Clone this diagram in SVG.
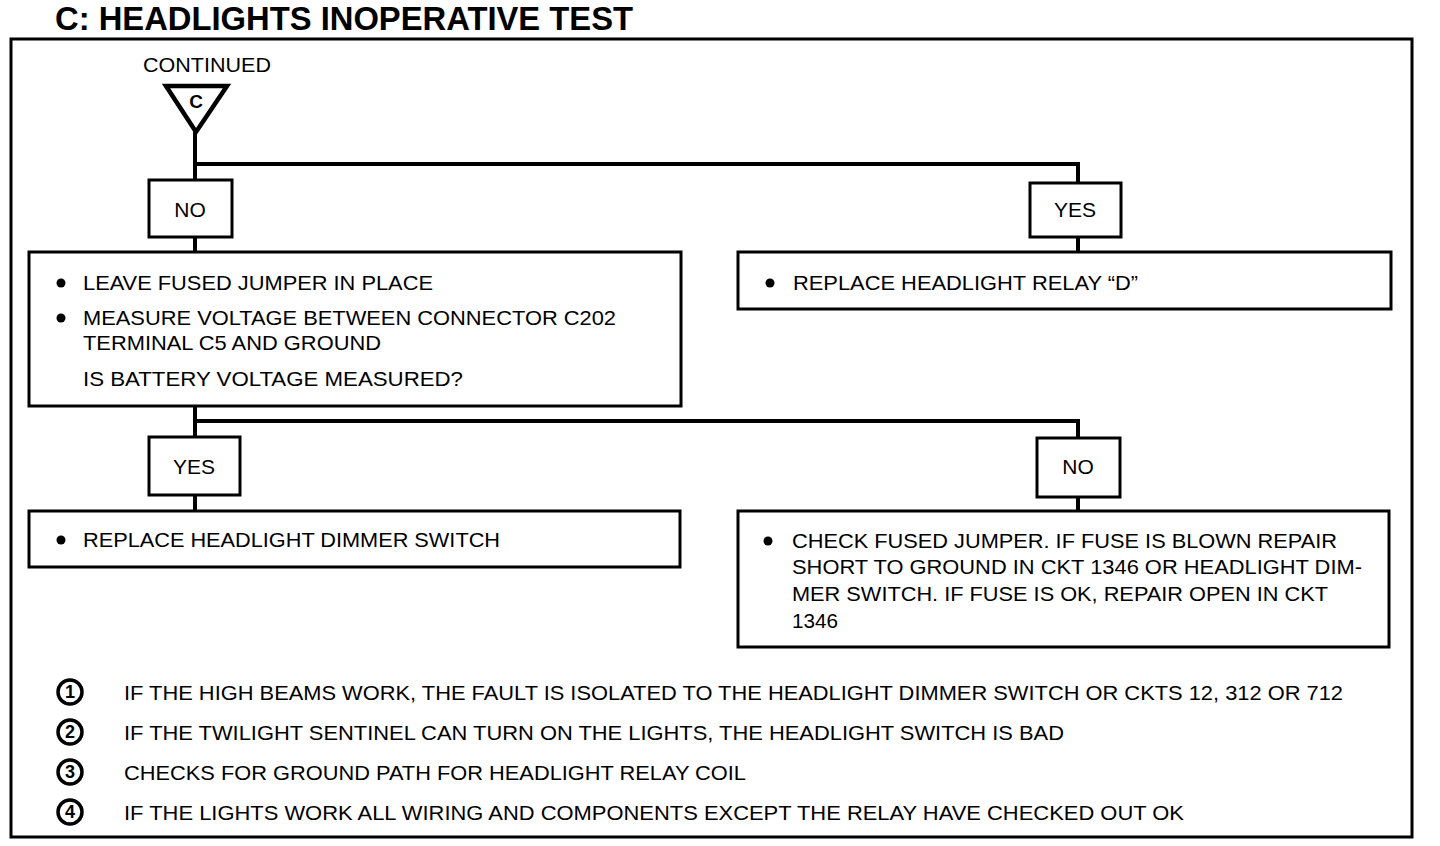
<svg xmlns="http://www.w3.org/2000/svg" width="1440" height="846" viewBox="0 0 1440 846">
<style>
text{font-family:"Liberation Sans",Arial,sans-serif;fill:#000}
.t{font-size:21px}
.lbl{font-size:21px;text-anchor:middle}
.box{fill:#fff;stroke:#000;stroke-width:3}
.ln{fill:none;stroke:#000;stroke-width:4}
.dot{fill:#000}
.num{fill:#fff;stroke:#000;stroke-width:3.5}
.nt{font-size:18px;font-weight:bold;text-anchor:middle}
</style>
<rect width="1440" height="846" fill="#fff"/>
<text x="55" y="30" font-size="33" font-weight="bold" textLength="578" lengthAdjust="spacingAndGlyphs">C: HEADLIGHTS INOPERATIVE TEST</text>
<rect x="11" y="39" width="1401" height="798" fill="none" stroke="#000" stroke-width="3"/>
<g id="connectors">
<path class="ln" d="M195 132V180"/>
<path class="ln" d="M195 164H1078V183"/>
<path class="ln" d="M195 237V252"/>
<path class="ln" d="M1078 237V252"/>
<path class="ln" d="M195 406V437"/>
<path class="ln" d="M195 421H1078V438"/>
<path class="ln" d="M195 495V511"/>
<path class="ln" d="M1078 497V511"/>
</g>
<g id="start">
<text x="207" y="72" class="lbl" textLength="128" lengthAdjust="spacingAndGlyphs">CONTINUED</text>
<path d="M166 86H227L196 132Z" fill="#fff" stroke="#000" stroke-width="4.5" stroke-linejoin="miter"/>
<text x="196" y="108" font-size="19" font-weight="bold" text-anchor="middle">C</text>
</g>
<g id="no1">
<rect class="box" x="149" y="180" width="83" height="57"/>
<text class="lbl" x="190" y="217">NO</text>
</g>
<g id="yes1">
<rect class="box" x="1030" y="183" width="91" height="54"/>
<text class="lbl" x="1075" y="217">YES</text>
</g>
<g id="measure">
<rect class="box" x="29" y="252" width="652" height="154"/>
<circle class="dot" cx="61" cy="283" r="4.5"/>
<text class="t" x="83" y="290" textLength="350" lengthAdjust="spacingAndGlyphs">LEAVE FUSED JUMPER IN PLACE</text>
<circle class="dot" cx="61" cy="318" r="4.5"/>
<text class="t" x="83" y="325" textLength="533" lengthAdjust="spacingAndGlyphs">MEASURE VOLTAGE BETWEEN CONNECTOR C202</text>
<text class="t" x="83" y="350" textLength="298" lengthAdjust="spacingAndGlyphs">TERMINAL C5 AND GROUND</text>
<text class="t" x="83" y="386" textLength="380" lengthAdjust="spacingAndGlyphs">IS BATTERY VOLTAGE MEASURED?</text>
</g>
<g id="relay">
<rect class="box" x="738" y="252" width="653" height="57"/>
<circle class="dot" cx="770" cy="283" r="4.5"/>
<text class="t" x="793" y="290" textLength="345" lengthAdjust="spacingAndGlyphs">REPLACE HEADLIGHT RELAY “D”</text>
</g>
<g id="yes2">
<rect class="box" x="149" y="437" width="91" height="58"/>
<text class="lbl" x="194" y="474">YES</text>
</g>
<g id="no2">
<rect class="box" x="1037" y="438" width="83" height="59"/>
<text class="lbl" x="1078" y="474">NO</text>
</g>
<g id="dimmer">
<rect class="box" x="29" y="511" width="651" height="56"/>
<circle class="dot" cx="61" cy="540" r="4.5"/>
<text class="t" x="83" y="547" textLength="417" lengthAdjust="spacingAndGlyphs">REPLACE HEADLIGHT DIMMER SWITCH</text>
</g>
<g id="fuse">
<rect class="box" x="738" y="511" width="651" height="136"/>
<circle class="dot" cx="768" cy="541" r="4.5"/>
<text class="t" x="792" y="548" textLength="545" lengthAdjust="spacingAndGlyphs">CHECK FUSED JUMPER. IF FUSE IS BLOWN REPAIR</text>
<text class="t" x="792" y="574" textLength="570" lengthAdjust="spacingAndGlyphs">SHORT TO GROUND IN CKT 1346 OR HEADLIGHT DIM-</text>
<text class="t" x="792" y="601" textLength="536" lengthAdjust="spacingAndGlyphs">MER SWITCH. IF FUSE IS OK, REPAIR OPEN IN CKT</text>
<text class="t" x="792" y="628" textLength="46" lengthAdjust="spacingAndGlyphs">1346</text>
</g>
<g id="notes">
<circle class="num" cx="70" cy="692" r="12"/>
<text class="nt" x="70" y="698">1</text>
<text class="t" x="124" y="700" textLength="1219" lengthAdjust="spacingAndGlyphs">IF THE HIGH BEAMS WORK, THE FAULT IS ISOLATED TO THE HEADLIGHT DIMMER SWITCH OR CKTS 12, 312 OR 712</text>
<circle class="num" cx="70" cy="732" r="12"/>
<text class="nt" x="70" y="738">2</text>
<text class="t" x="124" y="740" textLength="940" lengthAdjust="spacingAndGlyphs">IF THE TWILIGHT SENTINEL CAN TURN ON THE LIGHTS, THE HEADLIGHT SWITCH IS BAD</text>
<circle class="num" cx="70" cy="772" r="12"/>
<text class="nt" x="70" y="778">3</text>
<text class="t" x="124" y="780" textLength="622" lengthAdjust="spacingAndGlyphs">CHECKS FOR GROUND PATH FOR HEADLIGHT RELAY COIL</text>
<circle class="num" cx="70" cy="812" r="12"/>
<text class="nt" x="70" y="818">4</text>
<text class="t" x="124" y="820" textLength="1060" lengthAdjust="spacingAndGlyphs">IF THE LIGHTS WORK ALL WIRING AND COMPONENTS EXCEPT THE RELAY HAVE CHECKED OUT OK</text>
</g>
</svg>
